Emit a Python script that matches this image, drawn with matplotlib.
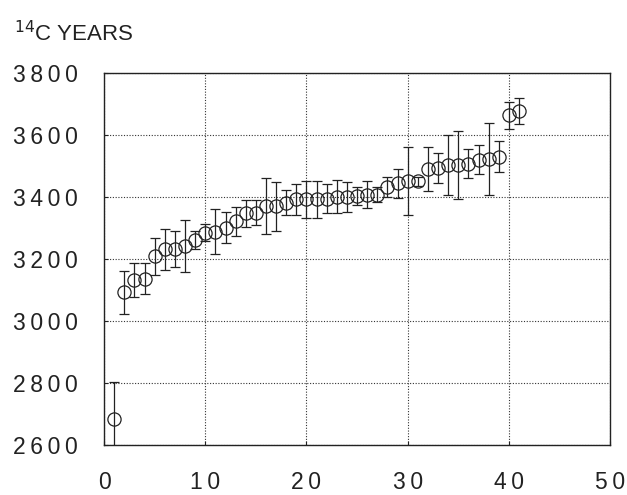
import numpy as np
import matplotlib.pyplot as plt

# sample number (x) and 14C age with 1-sigma error
sample = list(range(1, 42))
age = [2684, 3092, 3131, 3137, 3209, 3231, 3231, 3242, 3261, 3285,
       3288, 3301, 3322, 3347, 3349, 3370, 3370, 3382, 3392, 3392,
       3392, 3394, 3401, 3401, 3403, 3408, 3408, 3433, 3444, 3451,
       3451, 3491, 3494, 3502, 3502, 3508, 3521, 3523, 3530, 3663,
       3676]
err = [120, 70, 55, 50, 60, 67, 58, 85, 30, 28,
       73, 50, 47, 44, 40, 90, 80, 40, 50, 60,
       60, 47, 53, 48, 30, 43, 25, 33, 46, 110,
       15, 70, 48, 97, 110, 48, 48, 115, 50, 44,
       42]

x_ticks = [0, 10, 20, 30, 40, 50]
y_ticks = [2600, 2800, 3000, 3200, 3400, 3600, 3800]


def spaced(v):
    # the scanned labels are set with wide letter spacing
    return '\u2009'.join(str(v))


plt.rcParams['font.family'] = ['Liberation Sans', 'DejaVu Sans']

fig = plt.figure(figsize=(6.27, 4.95), dpi=100)
ax = fig.add_axes([0.166, 0.101, 0.807, 0.7515])

ax.errorbar(sample, age, yerr=err, fmt='o', mfc='none', mec='#222222',
            mew=0.9, ms=9.5, ecolor='#222222', elinewidth=0.9,
            capsize=3.5, capthick=0.9)

ax.set_xlim(0, 50)
ax.set_ylim(2600, 3800)
ax.set_xticks(x_ticks)
ax.set_xticklabels([spaced(v) for v in x_ticks])
ax.set_yticks(y_ticks)
ax.set_yticklabels([spaced(v) for v in y_ticks])
ax.grid(True, color='#333333', linestyle=(0, (1, 1.5)), linewidth=0.8)
ax.set_axisbelow(True)
for s in ax.spines.values():
    s.set_color('#222222')
    s.set_linewidth(1.0)
ax.tick_params(axis='both', direction='in', length=3, color='#222222',
               labelsize=16.5, labelcolor='#222222')
ax.tick_params(axis='x', pad=19)
ax.tick_params(axis='y', pad=19)

fig.text(0.022, 0.916, r'$^{14}$C YEARS', fontsize=16, color='#222222')

fig.savefig('out.png', dpi=100)
